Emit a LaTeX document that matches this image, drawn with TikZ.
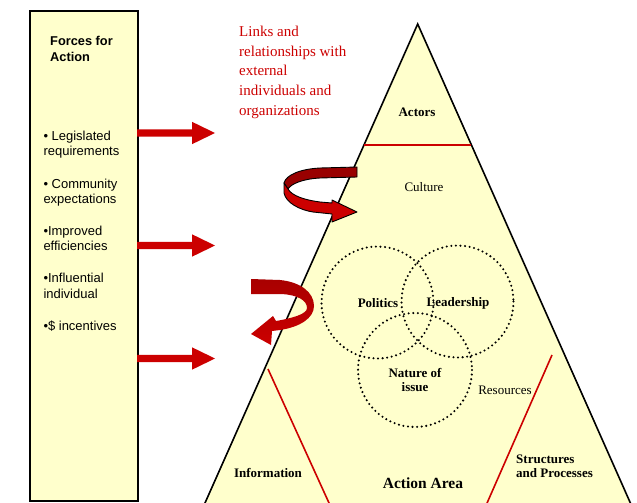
\documentclass[tikz,border=0pt]{standalone}
\usepackage{fontspec}
\setmainfont{Liberation Serif}
\newfontfamily\arialf{Liberation Sans}
\definecolor{paleyel}{HTML}{FFFFCC}
\definecolor{myred}{HTML}{CC0000}
\definecolor{backred}{HTML}{990000}
\definecolor{tailred}{HTML}{A80000}
\begin{document}
\begin{tikzpicture}[x=1pt,y=-1pt,
  sanstxt/.style={font=\arialf\fontsize{13}{15}\selectfont, anchor=base west, inner sep=0pt},
  sanshead/.style={font=\arialf\bfseries\fontsize{12.8}{15}\selectfont, anchor=base west, inner sep=0pt},
  redtxt/.style={font=\fontsize{15}{19.5}\selectfont, text=myred, anchor=base west, inner sep=0pt},
  lbl/.style={font=\bfseries\fontsize{13}{14.5}\selectfont, align=center, inner sep=0pt},
  plainlbl/.style={font=\fontsize{13}{15}\selectfont, inner sep=0pt},
  redline/.style={draw=myred, line width=1.6pt},
  dotcircle/.style={draw=black, line width=2.3pt, line cap=round, dash pattern=on 0pt off 4.6pt},
  ribbon/.style={draw=black, line width=0.9pt, line join=round}
]
\useasboundingbox (0,0) rectangle (637,503);
\clip (0,0) rectangle (637,503);

% left box
\node[draw, line width=1.6pt, fill=paleyel, minimum width=108pt, minimum height=490pt,
      inner sep=0pt, anchor=north west] (box) at (29,10) {};
\node[sanshead] (f1) at (50,45.5) {Forces for};
\node[sanshead] (f2) at (50,61.5) {Action};
\node[sanstxt] (b1) at (43.3,140) {• Legislated};
\node[sanstxt] (b2) at (43.3,155.7) {requirements};
\node[sanstxt] (b3) at (43.3,188) {• Community};
\node[sanstxt] (b4) at (43.3,203) {expectations};
\node[sanstxt] (b5) at (43.3,235) {•Improved};
\node[sanstxt] (b6) at (43.3,250.7) {efficiencies};
\node[sanstxt] (b7) at (43.3,282.7) {•Influential};
\node[sanstxt] (b8) at (43.3,298.3) {individual};
\node[sanstxt] (b9) at (43.3,330) {•\$ incentives};

% straight arrows
\coordinate (arr1) at (137,133);
\coordinate (arr2) at (137,245.5);
\coordinate (arr3) at (137,358.5);
\foreach \a in {arr1,arr2,arr3}{
  \fill[myred] (\a) ++(0,-3.6) -- ++(55,0) -- ++(0,-7.6) -- ++(23,11.2) -- ++(-23,11.2)
    -- ++(0,-7.6) -- ++(-55,0) -- cycle;
}

% triangle
\coordinate (apex) at (417.7,24);
\coordinate (bl) at (201.9,510);
\coordinate (br) at (633.5,510);
\draw[line width=1.6pt, fill=paleyel, line join=miter] (apex) -- (bl) -- (br) -- cycle;

% red dividers
\coordinate (act1) at (364,144.7);
\coordinate (act2) at (471,144.7);
\draw[redline] (act1) -- (act2);
\coordinate (il1) at (268,369);
\coordinate (il2) at (332.2,510);
\draw[redline] (il1) -- (il2);
\coordinate (sl1) at (552,355);
\coordinate (sl2) at (484,510);
\draw[redline] (sl1) -- (sl2);

% dotted circles
\draw[dotcircle] (377.5,302.5) circle[radius=56];
\draw[dotcircle] (457.5,301.5) circle[radius=56];
\draw[dotcircle] (415,370) circle[radius=57];

% labels
\node[lbl] (actors) at (417,112) {Actors};
\node[plainlbl] (culture) at (424,187) {Culture};
\node[lbl] (politics) at (378,303) {Politics};
\node[lbl] (leader) at (458,303) {Leadership};
\node[lbl] (nature) at (415,380) {Nature of\\issue};
\node[plainlbl] (resources) at (505,390) {Resources};
\node[lbl] (info) at (268,473) {Information};
\node[lbl, font=\bfseries\fontsize{15.5}{17}\selectfont] (action) at (423,483) {Action Area};
\node[lbl, align=left, anchor=west] (struct) at (516,466.5) {Structures\\and Processes};

% red external text
\node[redtxt] (r1) at (239,37) {Links and};
\node[redtxt] (r2) at (239,56.5) {relationships with};
\node[redtxt] (r3) at (239,76) {external};
\node[redtxt] (r4) at (239,95.5) {individuals and};
\node[redtxt] (r5) at (239,115) {organizations};

% upper curved arrow (ribbon)
\draw[ribbon, fill=backred] (357,167) -- (320,168) .. controls (300,169) and (286,175) .. (284,183)
  -- (288,189) .. controls (291,184) and (302,179) .. (320,178) -- (357,177) -- cycle;
\draw[ribbon, fill=myred] (284,183) -- (284,193) .. controls (286,203) and (300,210) .. (313,212)
  -- (332,214) -- (332,222) -- (357,212) -- (332,200) -- (332,203) -- (320,202)
  .. controls (305,200) and (292,196) .. (288,189) -- cycle;

% lower curved arrow
\shade[top color=tailred, bottom color=myred]
  (251,279) -- (280,280) .. controls (300,282) and (314,292) .. (314,306)
  .. controls (314,318) and (300,327) .. (280,330) -- (272,331) -- (271,345) -- (251,334)
  -- (273,316) -- (276,321) .. controls (293,318) and (307,314) .. (307,308)
  .. controls (307,300) and (297,295) .. (282,294) -- (251,294) -- cycle;
\end{tikzpicture}
\end{document}
